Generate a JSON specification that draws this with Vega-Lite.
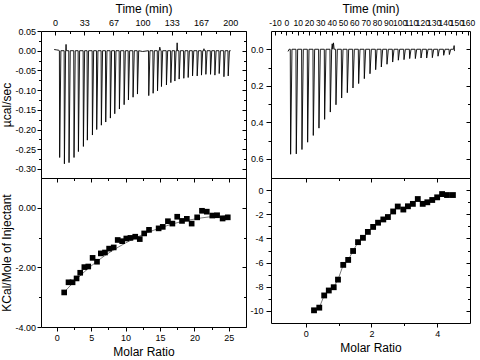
{
  "$schema": "https://vega.github.io/schema/vega-lite/v6.json",
  "padding": {"left": 0, "top": 1, "right": 0, "bottom": 0},
  "background": "white",
  "columns": 2,
  "spacing": {"row": 0, "column": 25},
  "bounds": "flush",
  "align": "each",
  "config": {
    "view": {"stroke": "black", "strokeWidth": 1},
    "axis": {"domain": false, "grid": false, "labelFont": "Liberation Sans", "labelFontSize": 9, "labelColor": "black", "tickColor": "black", "tickWidth": 1, "titleFont": "Liberation Sans", "titleFontSize": 12, "titleFontWeight": "normal", "titleColor": "black", "labelFlush": false, "labelOverlap": false}
  },
  "datasets": {
    "tl": [
      {"t": -1, "v": 0.003}, {"t": 2, "v": 0.002}, {"t": 4.5, "v": 0.001},
      {"t": 5.0, "v": 0}, {"t": 5.3, "v": -0.271}, {"t": 6.7, "v": 0},
      {"t": 10.4, "v": 0}, {"t": 10.7, "v": -0.287}, {"t": 12.1, "v": 0},
      {"t": 12.3, "v": 0}, {"t": 12.6, "v": 0.016}, {"t": 12.9, "v": 0},
      {"t": 15.7, "v": 0}, {"t": 16.0, "v": -0.284}, {"t": 17.4, "v": 0},
      {"t": 21.4, "v": 0}, {"t": 21.7, "v": -0.271}, {"t": 23.1, "v": 0},
      {"t": 26.4, "v": 0}, {"t": 26.7, "v": -0.256}, {"t": 28.1, "v": 0},
      {"t": 32.1, "v": 0}, {"t": 32.4, "v": -0.243}, {"t": 33.8, "v": 0},
      {"t": 36.6, "v": 0}, {"t": 36.9, "v": -0.227}, {"t": 38.3, "v": 0},
      {"t": 42.4, "v": 0}, {"t": 42.7, "v": -0.214}, {"t": 44.1, "v": 0},
      {"t": 47.3, "v": 0}, {"t": 47.6, "v": -0.200}, {"t": 49.0, "v": 0},
      {"t": 52.6, "v": 0}, {"t": 52.9, "v": -0.189}, {"t": 54.3, "v": 0},
      {"t": 57.6, "v": 0}, {"t": 57.9, "v": -0.181}, {"t": 59.3, "v": 0},
      {"t": 62.9, "v": 0}, {"t": 63.2, "v": -0.171}, {"t": 64.6, "v": 0},
      {"t": 67.9, "v": 0}, {"t": 68.2, "v": -0.160}, {"t": 69.6, "v": 0},
      {"t": 73.2, "v": 0}, {"t": 73.5, "v": -0.148}, {"t": 74.9, "v": 0},
      {"t": 78.6, "v": 0}, {"t": 78.9, "v": -0.137}, {"t": 80.3, "v": 0},
      {"t": 83.5, "v": 0}, {"t": 83.8, "v": -0.125}, {"t": 85.2, "v": 0},
      {"t": 88.8, "v": 0}, {"t": 89.1, "v": -0.118}, {"t": 90.5, "v": 0},
      {"t": 93.8, "v": 0}, {"t": 94.1, "v": -0.110}, {"t": 95.5, "v": 0},
      {"t": 100, "v": -0.002},
      {"t": 106.7, "v": 0}, {"t": 107.0, "v": -0.114}, {"t": 108.4, "v": 0},
      {"t": 111.7, "v": 0}, {"t": 112.0, "v": -0.108}, {"t": 113.4, "v": 0},
      {"t": 116.7, "v": 0}, {"t": 117.0, "v": -0.102}, {"t": 118.4, "v": 0},
      {"t": 119.0, "v": 0}, {"t": 119.6, "v": 0.009}, {"t": 120.4, "v": 0.001},
      {"t": 121.2, "v": 0}, {"t": 121.5, "v": -0.091}, {"t": 122.9, "v": 0},
      {"t": 126.9, "v": 0}, {"t": 127.2, "v": -0.087}, {"t": 128.6, "v": 0},
      {"t": 131.9, "v": 0}, {"t": 132.2, "v": -0.081}, {"t": 133.6, "v": 0},
      {"t": 136.5, "v": 0}, {"t": 136.8, "v": -0.077}, {"t": 138.2, "v": 0},
      {"t": 139.0, "v": 0}, {"t": 139.4, "v": 0.020}, {"t": 139.8, "v": 0},
      {"t": 141.4, "v": 0}, {"t": 141.7, "v": -0.072}, {"t": 143.1, "v": 0},
      {"t": 146.7, "v": 0}, {"t": 147.0, "v": -0.070}, {"t": 148.4, "v": 0},
      {"t": 151.7, "v": 0}, {"t": 152.0, "v": -0.068}, {"t": 153.4, "v": 0},
      {"t": 156.7, "v": 0}, {"t": 157.0, "v": -0.064}, {"t": 158.4, "v": 0},
      {"t": 162.0, "v": 0}, {"t": 162.3, "v": -0.064}, {"t": 163.7, "v": 0},
      {"t": 166.9, "v": 0}, {"t": 167.2, "v": -0.062}, {"t": 168.6, "v": 0},
      {"t": 169.5, "v": 0}, {"t": 170.0, "v": 0.005}, {"t": 170.6, "v": 0},
      {"t": 171.9, "v": 0}, {"t": 172.2, "v": -0.060}, {"t": 173.6, "v": 0},
      {"t": 177.2, "v": 0}, {"t": 177.5, "v": -0.060}, {"t": 178.9, "v": 0},
      {"t": 182.2, "v": 0}, {"t": 182.5, "v": -0.062}, {"t": 183.9, "v": 0},
      {"t": 187.1, "v": 0}, {"t": 187.4, "v": -0.058}, {"t": 188.8, "v": 0},
      {"t": 192.5, "v": 0}, {"t": 192.8, "v": -0.066}, {"t": 194.2, "v": 0},
      {"t": 197.4, "v": 0}, {"t": 197.7, "v": -0.064}, {"t": 199.1, "v": 0},
      {"t": 200.5, "v": 0}
    ],
    "tr": [
      {"t": 1.5, "v": 0.012}, {"t": 2.5, "v": 0},
      {"t": 3.5, "v": 0}, {"t": 3.8, "v": 0.575}, {"t": 5.0, "v": 0},
      {"t": 8.5, "v": 0}, {"t": 8.8, "v": 0.573}, {"t": 10.0, "v": 0},
      {"t": 13.5, "v": 0}, {"t": 13.8, "v": 0.549}, {"t": 15.0, "v": 0},
      {"t": 18.5, "v": 0}, {"t": 18.8, "v": 0.509}, {"t": 20.0, "v": 0},
      {"t": 23.5, "v": 0}, {"t": 23.8, "v": 0.472}, {"t": 25.0, "v": 0},
      {"t": 28.5, "v": 0}, {"t": 28.8, "v": 0.432}, {"t": 30.0, "v": 0},
      {"t": 33.5, "v": 0}, {"t": 33.8, "v": 0.384}, {"t": 35.0, "v": 0},
      {"t": 38.5, "v": 0}, {"t": 38.8, "v": 0.344}, {"t": 40.0, "v": 0},
      {"t": 40.5, "v": -0.03}, {"t": 41.0, "v": 0}, {"t": 41.6, "v": -0.035}, {"t": 42.2, "v": 0},
      {"t": 43.5, "v": 0}, {"t": 43.8, "v": 0.304}, {"t": 45.0, "v": 0},
      {"t": 48.5, "v": 0}, {"t": 48.8, "v": 0.267}, {"t": 50.0, "v": 0},
      {"t": 53.5, "v": 0}, {"t": 53.8, "v": 0.238}, {"t": 55.0, "v": 0},
      {"t": 58.5, "v": 0}, {"t": 58.8, "v": 0.212}, {"t": 60.0, "v": 0},
      {"t": 63.5, "v": 0}, {"t": 63.8, "v": 0.188}, {"t": 65.0, "v": 0},
      {"t": 68.5, "v": 0}, {"t": 68.8, "v": 0.161}, {"t": 70.0, "v": 0},
      {"t": 73.5, "v": 0}, {"t": 73.8, "v": 0.134}, {"t": 75.0, "v": 0},
      {"t": 78.5, "v": 0}, {"t": 78.8, "v": 0.112}, {"t": 80.0, "v": 0},
      {"t": 83.5, "v": 0}, {"t": 83.8, "v": 0.097}, {"t": 85.0, "v": 0},
      {"t": 88.5, "v": 0}, {"t": 88.8, "v": 0.082}, {"t": 90.0, "v": 0},
      {"t": 93.5, "v": 0}, {"t": 93.8, "v": 0.070}, {"t": 95.0, "v": 0},
      {"t": 98.5, "v": 0}, {"t": 98.8, "v": 0.060}, {"t": 100.0, "v": 0},
      {"t": 103.5, "v": 0}, {"t": 103.8, "v": 0.057}, {"t": 105.0, "v": 0},
      {"t": 108.5, "v": 0}, {"t": 108.8, "v": 0.051}, {"t": 110.0, "v": 0},
      {"t": 113.5, "v": 0}, {"t": 113.8, "v": 0.051}, {"t": 115.0, "v": 0},
      {"t": 118.5, "v": 0}, {"t": 118.8, "v": 0.048}, {"t": 120.0, "v": 0},
      {"t": 123.5, "v": 0}, {"t": 123.8, "v": 0.048}, {"t": 125.0, "v": 0},
      {"t": 128.5, "v": 0}, {"t": 128.8, "v": 0.046}, {"t": 130.0, "v": 0},
      {"t": 133.5, "v": 0}, {"t": 133.8, "v": 0.038}, {"t": 135.0, "v": 0},
      {"t": 138.5, "v": 0}, {"t": 138.8, "v": 0.033}, {"t": 140.0, "v": 0},
      {"t": 143.5, "v": 0}, {"t": 143.8, "v": 0.029}, {"t": 145.0, "v": 0},
      {"t": 147.5, "v": 0}, {"t": 148.0, "v": -0.02}, {"t": 148.3, "v": 0.01}
    ],
    "bl": [
      {"r": 1.07, "h": -2.84}, {"r": 1.7, "h": -2.5}, {"r": 2.29, "h": -2.5}, {"r": 2.87, "h": -2.37},
      {"r": 3.4, "h": -2.18}, {"r": 4.0, "h": -1.99}, {"r": 4.57, "h": -1.97}, {"r": 5.2, "h": -1.68},
      {"r": 5.84, "h": -1.81}, {"r": 6.4, "h": -1.53}, {"r": 7.0, "h": -1.5}, {"r": 7.6, "h": -1.37},
      {"r": 8.27, "h": -1.33}, {"r": 8.85, "h": -1.08}, {"r": 9.5, "h": -1.12}, {"r": 10.1, "h": -1.03},
      {"r": 10.7, "h": -1.01}, {"r": 11.4, "h": -0.97}, {"r": 12.06, "h": -1.05}, {"r": 12.7, "h": -0.86},
      {"r": 13.4, "h": -0.74}, {"r": 14.8, "h": -0.69}, {"r": 15.4, "h": -0.64}, {"r": 16.15, "h": -0.45},
      {"r": 16.8, "h": -0.53}, {"r": 17.5, "h": -0.3}, {"r": 18.2, "h": -0.44}, {"r": 18.9, "h": -0.37},
      {"r": 19.6, "h": -0.53}, {"r": 20.4, "h": -0.32}, {"r": 21.1, "h": -0.1}, {"r": 21.8, "h": -0.13},
      {"r": 22.6, "h": -0.26}, {"r": 23.3, "h": -0.25}, {"r": 24.1, "h": -0.36}, {"r": 24.85, "h": -0.32}
    ],
    "blfit": [
      {"r": 1, "h": -2.85}, {"r": 2, "h": -2.6}, {"r": 3, "h": -2.37}, {"r": 4, "h": -2.15},
      {"r": 5, "h": -1.95}, {"r": 6, "h": -1.77}, {"r": 7, "h": -1.6}, {"r": 8, "h": -1.45},
      {"r": 9, "h": -1.31}, {"r": 10, "h": -1.18}, {"r": 11, "h": -1.06}, {"r": 12, "h": -0.95},
      {"r": 13, "h": -0.85}, {"r": 14, "h": -0.76}, {"r": 15, "h": -0.68}, {"r": 16, "h": -0.6},
      {"r": 17, "h": -0.53}, {"r": 18, "h": -0.47}, {"r": 19, "h": -0.42}, {"r": 20, "h": -0.38},
      {"r": 21, "h": -0.34}, {"r": 22, "h": -0.31}, {"r": 23, "h": -0.29}, {"r": 24, "h": -0.27},
      {"r": 25, "h": -0.25}
    ],
    "br": [
      {"r": 0.25, "h": -9.95}, {"r": 0.41, "h": -9.73}, {"r": 0.56, "h": -8.72}, {"r": 0.7, "h": -8.31},
      {"r": 0.85, "h": -8.04}, {"r": 0.98, "h": -7.41}, {"r": 1.14, "h": -6.19}, {"r": 1.29, "h": -5.78},
      {"r": 1.44, "h": -5.04}, {"r": 1.59, "h": -4.31}, {"r": 1.74, "h": -3.95}, {"r": 1.89, "h": -3.46},
      {"r": 2.05, "h": -3.05}, {"r": 2.2, "h": -2.7}, {"r": 2.36, "h": -2.43}, {"r": 2.5, "h": -2.23},
      {"r": 2.66, "h": -1.77}, {"r": 2.8, "h": -1.36}, {"r": 2.97, "h": -1.61}, {"r": 3.11, "h": -1.34},
      {"r": 3.26, "h": -1.14}, {"r": 3.41, "h": -0.74}, {"r": 3.56, "h": -1.14}, {"r": 3.7, "h": -1.01},
      {"r": 3.85, "h": -0.82}, {"r": 4.0, "h": -0.6}, {"r": 4.15, "h": -0.33}, {"r": 4.3, "h": -0.41},
      {"r": 4.48, "h": -0.41}
    ]
  },
  "concat": [
    {
      "width": 205, "height": 147,
      "data": {"name": "tl"},
      "resolve": {"axis": {"x": "independent", "y": "independent"}},
      "layer": [
        {
          "mark": {"type": "line", "color": "#000000", "strokeWidth": 0.9, "clip": true},
          "encoding": {
            "x": {"field": "t", "type": "quantitative", "scale": {"domain": [-16, 218], "nice": false, "zero": false},
              "axis": {"orient": "top", "values": [0, 33.3333, 66.6667, 100, 133.3333, 166.6667, 200], "format": ".0f", "ticks": false, "labelPadding": 4, "title": "Time (min)", "titlePadding": 3}},
            "y": {"field": "v", "type": "quantitative", "scale": {"domain": [-0.323, 0.05], "nice": false, "zero": false},
              "axis": {"orient": "left", "values": [0.05, 0, -0.05, -0.1, -0.15, -0.2, -0.25, -0.3], "labelExpr": "replace(format(datum.value, '.2f'), '\u2212', '-')", "tickSize": 4, "labelPadding": 1.5, "title": "µcal/sec", "titlePadding": 1}}
          }
        },
        {
          "mark": {"type": "point", "opacity": 0},
          "encoding": {
            "x": {"field": "t", "type": "quantitative", "scale": {"domain": [-16, 218], "nice": false, "zero": false},
              "axis": {"orient": "top", "values": [16.6667, 50, 83.3333, 116.6667, 150, 183.3333], "labels": false, "tickSize": -2.5, "title": null}},
            "y": {"field": "v", "type": "quantitative", "scale": {"domain": [-0.323, 0.05], "nice": false, "zero": false},
              "axis": {"orient": "left", "values": [0.025, -0.025, -0.075, -0.125, -0.175, -0.225, -0.275], "labels": false, "tickSize": 2.5, "title": null}}
          }
        },
        {
          "mark": {"type": "point", "opacity": 0},
          "encoding": {
            "x": {"field": "t", "type": "quantitative", "scale": {"domain": [-16, 218], "nice": false, "zero": false},
              "axis": {"orient": "top", "values": [0, 33.3333, 66.6667, 100, 133.3333, 166.6667, 200], "labels": false, "tickSize": -4, "title": null}},
            "y": {"field": "v", "type": "quantitative", "scale": {"domain": [-0.323, 0.05], "nice": false, "zero": false},
              "axis": {"orient": "right", "values": [0.05, 0, -0.05, -0.1, -0.15, -0.2, -0.25, -0.3], "labels": false, "tickSize": -4, "title": null}}
          }
        },
        {
          "mark": {"type": "point", "opacity": 0},
          "encoding": {
            "x": {"field": "t", "type": "quantitative", "scale": {"domain": [-16, 218], "nice": false, "zero": false}, "axis": null},
            "y": {"field": "v", "type": "quantitative", "scale": {"domain": [-0.323, 0.05], "nice": false, "zero": false},
              "axis": {"orient": "right", "values": [0.025, -0.025, -0.075, -0.125, -0.175, -0.225, -0.275], "labels": false, "tickSize": -2.5, "title": null}}
          }
        }
      ]
    },
    {
      "width": 199, "height": 147,
      "data": {"name": "tr"},
      "resolve": {"axis": {"x": "independent", "y": "independent"}},
      "layer": [
        {
          "mark": {"type": "line", "color": "#000000", "strokeWidth": 0.9, "clip": true},
          "encoding": {
            "x": {"field": "t", "type": "quantitative", "scale": {"domain": [-13.5, 162], "nice": false, "zero": false},
              "axis": {"orient": "top", "values": [-10, 0, 10, 20, 30, 40, 50, 60, 70, 80, 90, 100, 110, 120, 130, 140, 150, 160], "labelExpr": "replace(format(datum.value, 'd'), '\u2212', '-')", "labelFontSize": 8.5, "ticks": false, "labelPadding": 4, "title": "Time (min)", "titlePadding": 3}},
            "y": {"field": "v", "type": "quantitative", "scale": {"domain": [-0.1, 0.705], "reverse": true, "nice": false, "zero": false},
              "axis": {"orient": "left", "values": [0, 0.2, 0.4, 0.6], "format": ".1f", "tickSize": 5, "labelPadding": 3, "title": null}}
          }
        },
        {
          "mark": {"type": "point", "opacity": 0},
          "encoding": {
            "x": {"field": "t", "type": "quantitative", "scale": {"domain": [-13.5, 162], "nice": false, "zero": false},
              "axis": {"orient": "top", "values": [-5, 5, 15, 25, 35, 45, 55, 65, 75, 85, 95, 105, 115, 125, 135, 145, 155], "labels": false, "tickSize": -2.5, "title": null}},
            "y": {"field": "v", "type": "quantitative", "scale": {"domain": [-0.1, 0.705], "reverse": true, "nice": false, "zero": false},
              "axis": {"orient": "left", "values": [0.1, 0.3, 0.5], "labels": false, "tickSize": 3, "title": null}}
          }
        },
        {
          "mark": {"type": "point", "opacity": 0},
          "encoding": {
            "x": {"field": "t", "type": "quantitative", "scale": {"domain": [-13.5, 162], "nice": false, "zero": false},
              "axis": {"orient": "top", "values": [-10, 0, 10, 20, 30, 40, 50, 60, 70, 80, 90, 100, 110, 120, 130, 140, 150, 160], "labels": false, "tickSize": -4, "title": null}},
            "y": {"field": "v", "type": "quantitative", "scale": {"domain": [-0.1, 0.705], "reverse": true, "nice": false, "zero": false},
              "axis": {"orient": "right", "values": [0, 0.2, 0.4, 0.6], "labels": false, "tickSize": -4, "title": null}}
          }
        },
        {
          "mark": {"type": "point", "opacity": 0},
          "encoding": {
            "x": {"field": "t", "type": "quantitative", "scale": {"domain": [-13.5, 162], "nice": false, "zero": false}, "axis": null},
            "y": {"field": "v", "type": "quantitative", "scale": {"domain": [-0.1, 0.705], "reverse": true, "nice": false, "zero": false},
              "axis": {"orient": "right", "values": [0.1, 0.3, 0.5], "labels": false, "tickSize": -2.5, "title": null}}
          }
        }
      ]
    },
    {
      "width": 205, "height": 149,
      "data": {"name": "bl"},
      "resolve": {"axis": {"x": "independent", "y": "independent"}},
      "layer": [
        {
          "data": {"name": "blfit"},
          "mark": {"type": "line", "color": "#222222", "strokeWidth": 0.6},
          "encoding": {
            "x": {"field": "r", "type": "quantitative", "scale": {"domain": [-2.3, 27.5], "nice": false, "zero": false}, "axis": null},
            "y": {"field": "h", "type": "quantitative", "scale": {"domain": [-4, 1], "nice": false, "zero": false}, "axis": null}
          }
        },
        {
          "mark": {"type": "square", "filled": true, "color": "black", "size": 32, "opacity": 1},
          "encoding": {
            "x": {"field": "r", "type": "quantitative", "scale": {"domain": [-2.3, 27.5], "nice": false, "zero": false},
              "axis": {"orient": "bottom", "values": [0, 5, 10, 15, 20, 25], "format": "d", "tickSize": 4, "labelPadding": 2, "title": "Molar Ratio", "titlePadding": 4}},
            "y": {"field": "h", "type": "quantitative", "scale": {"domain": [-4, 1], "nice": false, "zero": false},
              "axis": {"orient": "left", "values": [0, -2, -4], "labelExpr": "replace(format(datum.value, '.2f'), '\u2212', '-')", "tickSize": 4, "labelPadding": 1.5, "title": "KCal/Mole of Injectant", "titlePadding": 1}}
          }
        },
        {
          "mark": {"type": "point", "opacity": 0},
          "encoding": {
            "x": {"field": "r", "type": "quantitative", "scale": {"domain": [-2.3, 27.5], "nice": false, "zero": false},
              "axis": {"orient": "bottom", "values": [2.5, 7.5, 12.5, 17.5, 22.5], "labels": false, "tickSize": 2.5, "title": null}},
            "y": {"field": "h", "type": "quantitative", "scale": {"domain": [-4, 1], "nice": false, "zero": false},
              "axis": {"orient": "left", "values": [-1, -3], "labels": false, "tickSize": 2.5, "title": null}}
          }
        },
        {
          "mark": {"type": "point", "opacity": 0},
          "encoding": {
            "x": {"field": "r", "type": "quantitative", "scale": {"domain": [-2.3, 27.5], "nice": false, "zero": false},
              "axis": {"orient": "top", "values": [0, 5, 10, 15, 20, 25], "labels": false, "tickSize": -4, "title": null}},
            "y": {"field": "h", "type": "quantitative", "scale": {"domain": [-4, 1], "nice": false, "zero": false},
              "axis": {"orient": "right", "values": [0, -2, -4], "labels": false, "tickSize": -4, "title": null}}
          }
        },
        {
          "mark": {"type": "point", "opacity": 0},
          "encoding": {
            "x": {"field": "r", "type": "quantitative", "scale": {"domain": [-2.3, 27.5], "nice": false, "zero": false},
              "axis": {"orient": "top", "values": [2.5, 7.5, 12.5, 17.5, 22.5], "labels": false, "tickSize": -2.5, "title": null}},
            "y": {"field": "h", "type": "quantitative", "scale": {"domain": [-4, 1], "nice": false, "zero": false},
              "axis": {"orient": "right", "values": [-1, -3], "labels": false, "tickSize": -2.5, "title": null}}
          }
        }
      ]
    },
    {
      "width": 199, "height": 145,
      "data": {"name": "br"},
      "resolve": {"axis": {"x": "independent", "y": "independent"}},
      "layer": [
        {
          "mark": {"type": "line", "color": "#222222", "strokeWidth": 0.6},
          "encoding": {
            "x": {"field": "r", "type": "quantitative", "scale": {"domain": [-1.06, 5.0], "nice": false, "zero": false}, "axis": null},
            "y": {"field": "h", "type": "quantitative", "scale": {"domain": [-11, 1], "nice": false, "zero": false}, "axis": null}
          }
        },
        {
          "mark": {"type": "square", "filled": true, "color": "black", "size": 34, "opacity": 1},
          "encoding": {
            "x": {"field": "r", "type": "quantitative", "scale": {"domain": [-1.06, 5.0], "nice": false, "zero": false},
              "axis": {"orient": "bottom", "values": [0, 2, 4], "format": "d", "tickSize": 4, "labelPadding": 2, "title": "Molar Ratio", "titlePadding": 4}},
            "y": {"field": "h", "type": "quantitative", "scale": {"domain": [-11, 1], "nice": false, "zero": false},
              "axis": {"orient": "left", "values": [0, -2, -4, -6, -8, -10], "labelExpr": "replace(format(datum.value, 'd'), '\u2212', '-')", "tickSize": 5, "labelPadding": 3, "title": null}}
          }
        },
        {
          "mark": {"type": "point", "opacity": 0},
          "encoding": {
            "x": {"field": "r", "type": "quantitative", "scale": {"domain": [-1.06, 5.0], "nice": false, "zero": false},
              "axis": {"orient": "bottom", "values": [1, 3], "labels": false, "tickSize": 2.5, "title": null}},
            "y": {"field": "h", "type": "quantitative", "scale": {"domain": [-11, 1], "nice": false, "zero": false},
              "axis": {"orient": "left", "values": [-1, -3, -5, -7, -9], "labels": false, "tickSize": 3, "title": null}}
          }
        },
        {
          "mark": {"type": "point", "opacity": 0},
          "encoding": {
            "x": {"field": "r", "type": "quantitative", "scale": {"domain": [-1.06, 5.0], "nice": false, "zero": false},
              "axis": {"orient": "top", "values": [0, 2, 4], "labels": false, "tickSize": -4, "title": null}},
            "y": {"field": "h", "type": "quantitative", "scale": {"domain": [-11, 1], "nice": false, "zero": false},
              "axis": {"orient": "right", "values": [0, -2, -4, -6, -8, -10], "labels": false, "tickSize": -4, "title": null}}
          }
        },
        {
          "mark": {"type": "point", "opacity": 0},
          "encoding": {
            "x": {"field": "r", "type": "quantitative", "scale": {"domain": [-1.06, 5.0], "nice": false, "zero": false},
              "axis": {"orient": "top", "values": [1, 3], "labels": false, "tickSize": -2.5, "title": null}},
            "y": {"field": "h", "type": "quantitative", "scale": {"domain": [-11, 1], "nice": false, "zero": false},
              "axis": {"orient": "right", "values": [-1, -3, -5, -7, -9], "labels": false, "tickSize": -2.5, "title": null}}
          }
        }
      ]
    }
  ]
}
